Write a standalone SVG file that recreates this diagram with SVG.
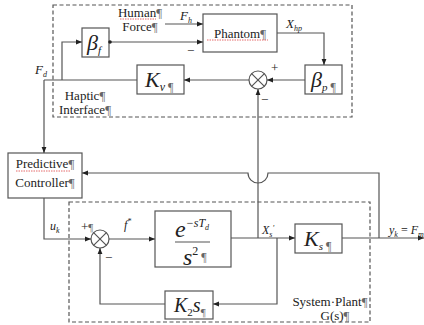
<svg xmlns="http://www.w3.org/2000/svg" width="424" height="325" viewBox="0 0 424 325" font-family="'Liberation Serif', 'DejaVu Serif', serif">
<style>
.box{fill:#fff;stroke:#555;stroke-width:1.2}
.dash{fill:none;stroke:#555;stroke-width:1.2;stroke-dasharray:4 2.5}
.ln{fill:none;stroke:#555;stroke-width:1.2}
.arr{fill:none;stroke:#555;stroke-width:1.2;marker-end:url(#ah)}
text{font-family:'Liberation Serif','DejaVu Serif',serif;fill:#222}
.t{font-size:13px}
.m{font-style:italic}
.pm{fill:#666}
.sp{fill:none;stroke:#d44;stroke-width:0.8;stroke-dasharray:1.5 1}
</style>
<defs>
<marker id="ah" viewBox="0 0 10 10" refX="10" refY="5" markerWidth="6" markerHeight="6" orient="auto" markerUnits="userSpaceOnUse">
<path d="M0,1 L10,5 L0,9 Z" fill="#222"/>
</marker>
</defs>
<rect width="424" height="325" fill="#fff"/>

<g id="haptic-frame">
<rect class="dash" x="53" y="5" width="299" height="112"/>
<text class="t" x="140" y="17" text-anchor="middle">Human<tspan class="pm">¶</tspan></text>
<path class="sp" d="M120,19 H156"/>
<text class="t" x="140" y="31" text-anchor="middle">Force<tspan class="pm">¶</tspan></text>
<text class="t" x="85" y="100" text-anchor="middle">Haptic<tspan class="pm">¶</tspan></text>
<text class="t" x="85" y="114" text-anchor="middle">Interface<tspan class="pm">¶</tspan></text>
</g>

<g id="plant-frame">
<rect class="dash" x="69" y="202" width="301" height="120"/>
<text class="t" x="330" y="306" text-anchor="middle">System·Plant<tspan class="pm">¶</tspan></text>
<text class="t" x="335" y="320" text-anchor="middle">G(s)<tspan class="pm">¶</tspan></text>
</g>

<g id="phantom">
<rect class="box" x="203" y="14" width="74" height="38"/>
<text class="t" x="240" y="38" text-anchor="middle">Phantom<tspan class="pm">¶</tspan></text>
<path class="sp" d="M207,40 H268"/>
</g>

<g id="beta-f">
<rect class="box" x="82" y="28" width="27" height="29"/>
<text x="87" y="50" font-size="22" class="m">β<tspan font-size="11" dy="4">f</tspan></text>
</g>

<g id="k-v">
<rect class="box" x="137" y="65" width="47" height="29"/>
<text x="145" y="87" font-size="22" class="m">K<tspan font-size="12" dy="4">v</tspan><tspan class="pm" font-size="12" font-style="normal"> ¶</tspan></text>
</g>

<g id="beta-p">
<rect class="box" x="305" y="65" width="37" height="29"/>
<text x="311" y="87" font-size="22" class="m">β<tspan font-size="11" dy="4">p</tspan><tspan class="pm" font-size="12" font-style="normal"> ¶</tspan></text>
</g>

<g id="sum-top">
<circle cx="258" cy="80" r="9" fill="#fff" stroke="#555" stroke-width="1.2"/>
<path class="ln" d="M251.6,73.6 L264.4,86.4 M264.4,73.6 L251.6,86.4"/>
<text class="t" x="271" y="72">+</text>
<text class="t" x="261" y="104">−</text>
</g>

<g id="predictive-controller">
<rect class="box" x="8" y="153" width="74" height="45"/>
<text class="t" x="45" y="168" text-anchor="middle">Predictive<tspan class="pm">¶</tspan></text>
<path class="sp" d="M16,171 H70"/>
<text class="t" x="45" y="187" text-anchor="middle">Controller<tspan class="pm">¶</tspan></text>
</g>

<g id="sum-bottom">
<circle cx="100" cy="239" r="9" fill="#fff" stroke="#555" stroke-width="1.2"/>
<path class="ln" d="M93.6,232.6 L106.4,245.4 M106.4,232.6 L93.6,245.4"/>
<text class="t" x="81" y="231">+<tspan class="pm" font-size="11">¶</tspan></text>
<text class="t" x="105" y="262">−</text>
</g>

<g id="delay-plant">
<rect class="box" x="155" y="211" width="76" height="56"/>
<text x="175" y="237" font-size="24" class="m">e<tspan font-size="12" dy="-10">−sT</tspan><tspan font-size="8" dy="3">d</tspan></text>
<path class="ln" d="M175,242 H210"/>
<text x="183" y="265" font-size="24" class="m">s<tspan font-size="12" dy="-10" font-style="normal">2</tspan><tspan class="pm" font-size="12" font-style="normal" dy="6">  ¶</tspan></text>
</g>

<g id="k-s">
<rect class="box" x="295" y="224" width="47" height="29"/>
<text x="304" y="246" font-size="22" class="m">K<tspan font-size="11" dy="4">s</tspan><tspan class="pm" font-size="12" font-style="normal"> ¶</tspan></text>
</g>

<g id="k2s">
<rect class="box" x="165" y="291" width="48" height="28"/>
<text x="174" y="312" font-size="20" class="m">K<tspan font-size="11" dy="4" font-style="normal">2</tspan><tspan dy="-4">s</tspan><tspan class="pm" font-size="11" font-style="normal" dy="4">¶</tspan></text>
</g>

<g id="connectors">
<path class="arr" d="M165,24 H203"/>
<path class="arr" d="M109,42 H203"/>
<circle cx="110" cy="42" r="1.8" fill="#222"/>
<path class="arr" d="M44,80 V153"/>
<path class="arr" d="M62,80 V42 H82"/>
<path class="ln" d="M44,80 H137"/>
<path class="arr" d="M249,80 H184"/>
<path class="arr" d="M305,80 H267"/>
<path class="arr" d="M277,33 H324 V65"/>
<path class="arr" d="M258,238 V89"/>
<path class="arr" d="M379,238 V173 H268 A10,10 0 0 1 248,173 H82"/>
<path class="arr" d="M44,198 V239 H91"/>
<path class="arr" d="M109,239 H155"/>
<path class="arr" d="M231,238 H295"/>
<path class="arr" d="M342,238 H424"/>
<path class="arr" d="M277,238 V304 H213"/>
<path class="arr" d="M165,304 H100 V248"/>
</g>

<g id="labels">
<text x="180" y="20" font-size="13" class="m">F<tspan font-size="8" dy="3">h</tspan></text>
<text x="187" y="55" class="t">−</text>
<text x="286" y="28" font-size="13" class="m">X<tspan font-size="8" dy="3">hp</tspan></text>
<text x="35" y="74" font-size="13" class="m">F<tspan font-size="8" dy="3">d</tspan></text>
<text x="50" y="230" font-size="12" class="m">u<tspan font-size="8" dy="3">k</tspan></text>
<text x="124" y="229" font-size="12" class="m">f<tspan font-size="8" dy="-5">*</tspan></text>
<text x="262" y="234" font-size="12" class="m">X<tspan font-size="8" dy="3">s</tspan><tspan font-size="8" dy="-6">'</tspan></text>
<text x="389" y="234" font-size="12" class="m">y<tspan font-size="8" dy="3">k</tspan><tspan dy="-3" font-style="normal"> = </tspan>F<tspan font-size="8" dy="3">m</tspan></text>
</g>
</svg>
